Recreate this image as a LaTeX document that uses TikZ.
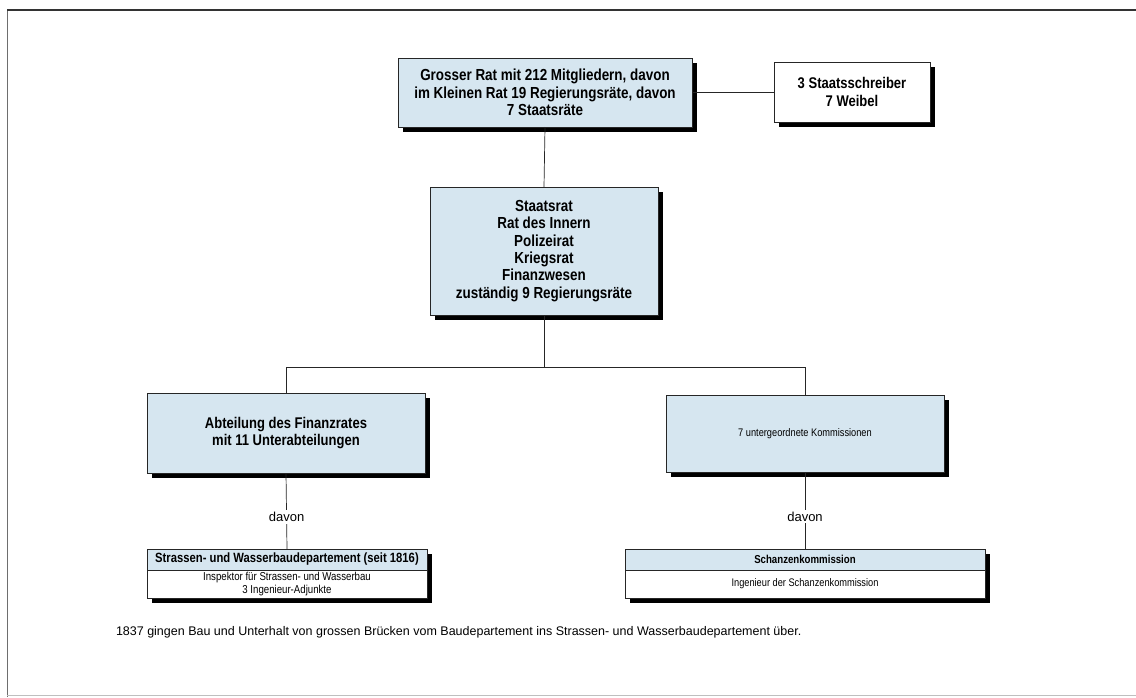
\documentclass[tikz,border=0pt]{standalone}
\usepackage{fontspec}
\setmainfont{Liberation Sans}
\newfontfamily\condensed{Liberation Sans}[FakeStretch=0.84]
\usetikzlibrary{shadows,calc}
\definecolor{boxblue}{RGB}{214,230,240}
\definecolor{framegray}{RGB}{110,110,110}
\tikzset{
  x=1pt, y=-1pt,
  every node/.style={inner sep=0pt, outer sep=0pt},
  boldtxt/.style={font=\condensed\bfseries\fontsize{#1}{17.3}\selectfont},
  boldtxt/.default=16,
  headtxt/.style={font=\condensed\bfseries\fontsize{#1}{14}\selectfont},
  headtxt/.default=13.4,
  plaintxt/.style={font=\condensed\fontsize{#1}{12.5}\selectfont},
  plaintxt/.default=11,
  labeltxt/.style={font=\fontsize{13}{15}\selectfont},
  notetxt/.style={font=\fontsize{12.5}{15}\selectfont},
  orgbox/.style={draw=black!85, line width=0.6pt, fill=boxblue, align=center,
    drop shadow={shadow xshift=5pt, shadow yshift=-5pt, fill=black, opacity=1}},
  panel/.style={orgbox, fill=white},
  headband/.style={draw=black!85, line width=0.6pt, fill=boxblue, align=center},
  link/.style={draw=black!85, line width=0.7pt},
}
\begin{document}
\begin{tikzpicture}
\useasboundingbox (0,0) rectangle (1136,697);
% page frame
\draw[framegray, line width=1pt] (7,697) -- (7,10);
\draw[black!80, line width=1.2pt] (7,10) -- (1136,10);
\draw[black!25, line width=0.6pt] (7,695) -- (1136,695);

% upper level
\node[orgbox, boldtxt=16, minimum width=294, minimum height=69] (rat) at (545,92.5)
  {Grosser Rat mit 212 Mitgliedern, davon\\im Kleinen Rat 19 Regierungsräte, davon\\7 Staatsräte};
\node[panel, boldtxt=15.5, minimum width=156, minimum height=60] (schreiber) at (852,92)
  {3 Staatsschreiber\\7 Weibel};
\node[orgbox, boldtxt=16, minimum width=228, minimum height=128] (staatsrat) at (544,251)
  {Staatsrat\\Rat des Innern\\Polizeirat\\Kriegsrat\\Finanzwesen\\zuständig 9 Regierungsräte};

% middle level
\node[orgbox, boldtxt=15.5, minimum width=278, minimum height=80] (finanz) at (286,433)
  {Abteilung des Finanzrates\\mit 11 Unterabteilungen};
\node[orgbox, plaintxt, minimum width=278, minimum height=77] (komm) at (805,433.5)
  {7 untergeordnete Kommissionen};

% lower level: header band over a white panel
\node[panel, minimum width=280, minimum height=49] (strassen) at (287,573.5) {};
\node[headband, headtxt, minimum width=280, minimum height=21, anchor=north] (strassenhead) at (strassen.north)
  {Strassen- und Wasserbaudepartement (seit 1816)};
\node[plaintxt=11.5, align=center] (strassenbody) at ($(strassenhead.south)!0.5!(strassen.south)$)
  {Inspektor für Strassen- und Wasserbau\\3 Ingenieur-Adjunkte};

\node[panel, minimum width=360, minimum height=49] (schanzen) at (805,573.5) {};
\node[headband, headtxt=11.5, minimum width=360, minimum height=21, anchor=north] (schanzenhead) at (schanzen.north)
  {Schanzenkommission};
\node[plaintxt, align=center] (schanzenbody) at ($(schanzenhead.south)!0.5!(schanzen.south)$)
  {Ingenieur der Schanzenkommission};

% connectors
\draw[link] (rat.east) -- (schreiber.west |- rat.east);
\draw[link] (rat.south) -- (staatsrat.north);
\draw[link] (staatsrat.south) -- ++(0,52) coordinate (bus);
\draw[link] (finanz.north) -- (finanz.north |- bus) -- (komm.north |- bus) -- (komm.north);
\draw[link] (finanz.south) -- (strassenhead.north)
  node[pos=0.58, fill=white, inner sep=2pt, labeltxt] (davonl) {davon};
\draw[link] (komm.south) -- (schanzenhead.north)
  node[pos=0.58, fill=white, inner sep=2pt, labeltxt] (davonr) {davon};

% footnote
\node[notetxt, anchor=west] (note) at (116,632)
  {1837 gingen Bau und Unterhalt von grossen Brücken vom Baudepartement ins Strassen- und Wasserbaudepartement über.};
\end{tikzpicture}
\end{document}
